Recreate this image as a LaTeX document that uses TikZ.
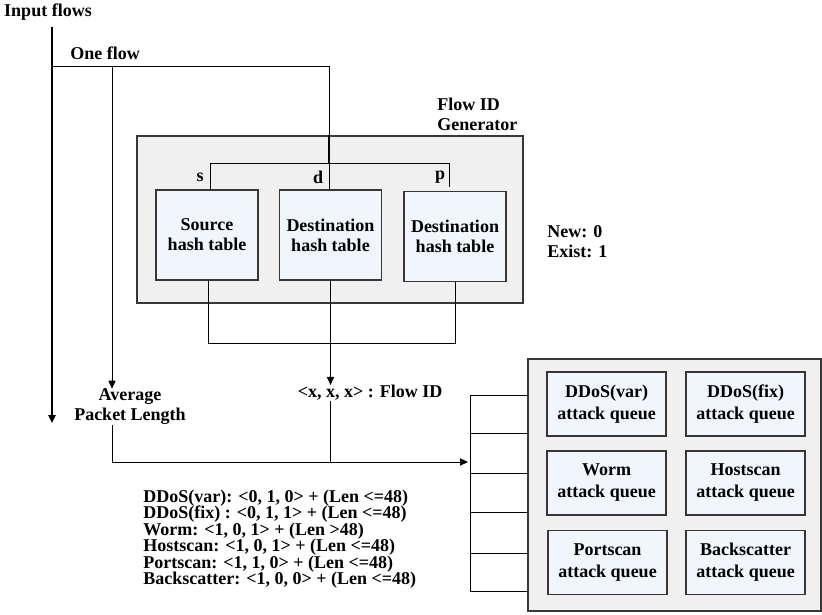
\documentclass[tikz,border=0pt]{standalone}
\usepackage{fontspec}
\setmainfont{Liberation Serif}
\usepackage{tikz}
\usetikzlibrary{arrows.meta, positioning}
\definecolor{panelgray}{RGB}{240,240,240}
\definecolor{boxblue}{RGB}{240,246,252}
\definecolor{edgegray}{RGB}{55,55,55}

\begin{document}
\begin{tikzpicture}[x=0.5pt, y=-0.5pt,
  >={Triangle[length=4pt, width=3.6pt]},
  every node/.style={font=\fontsize{9}{10}\selectfont\bfseries, inner sep=0pt},
  panel/.style={draw=edgegray, fill=panelgray, line width=0.6pt},
  hashbox/.style={draw=edgegray, fill=boxblue, line width=0.6pt, align=center,
                  minimum width=51pt, minimum height=45pt},
  queuebox/.style={draw=edgegray, fill=boxblue, line width=0.6pt, align=center,
                   minimum width=59.5pt, minimum height=32pt,
                   font=\fontsize{9}{11}\selectfont\bfseries},
  ln/.style={line width=0.5pt, black},
  ar/.style={->, line width=0.5pt, black}
]
\useasboundingbox (0,0) rectangle (822,614);

% flow ID generator
\node[panel, minimum width=193pt, minimum height=83.5pt] (gen) at (330,219.5) {};
\node[align=left, anchor=west] (genlbl) at (437,114.5) {Flow ID\\Generator};
\node[hashbox] (src) at (207,235) {Source\\hash table};
\node[hashbox] (dst) at (330.5,235) {Destination\\hash table};
\node[hashbox] (dpt) at (455,236.5) {Destination\\hash table};
\node (ls) at (200,177) {s};
\node (ld) at (318,177) {d};
\node (lp) at (440,177) {p};
\node[align=left, anchor=west] (newex) at (547,241.5) {New: 0\\Exist: 1};

% attack queues
\node[panel, minimum width=146.5pt, minimum height=126pt] (qs) at (674.5,485) {};
\foreach \n/\x/\y/\t in {q1/606.5/404/DDoS(var), q2/745.5/404/DDoS(fix),
                         q3/606.5/483/Worm, q4/745.5/483/Hostscan,
                         q5/607.5/562.5/Portscan, q6/745.5/562.5/Backscatter}
  \node[queuebox] (\n) at (\x,\y) {\t\\attack queue};

% labels
\node (input) at (48,12) {Input flows};
\node (oneflow) at (105,53) {One flow};
\node[align=center] (avg) at (130,407) {Average\\Packet Length};
\node (fid) at (370,393) {<x, x, x> : Flow ID};
\foreach \k/\y/\t in {1/498/{DDoS(var): <0, 1, 0> + (Len <=48)},
                      2/514/{DDoS(fix) : <0, 1, 1> + (Len <=48)},
                      3/531/{Worm: <1, 0, 1> + (Len >48)},
                      4/547/{Hostscan: <1, 0, 1> + (Len <=48)},
                      5/564/{Portscan: <1, 1, 0> + (Len <=48)},
                      6/580/{Backscatter: <1, 0, 0> + (Len <=48)}}
  \node[anchor=west] (rule\k) at (143,\y) {\t};

% input side
\coordinate (inTop) at (52,27);
\coordinate (inEnd) at (52,423);
\coordinate (split) at (52,67);
\coordinate (tapA) at (112,67);
\coordinate (hub) at (329,164);
\coordinate (sTap) at (210,164);
\coordinate (pTap) at (449,164);
\draw[->, line width=1pt] (inTop) -- (inEnd);
\draw[ln] (split) -| (gen.north -| hub);
\draw[line width=1.1pt] (gen.north -| hub) -- (hub);
\draw[ar] (tapA) -- (tapA |- avg.north);
\draw[ln] (sTap |- src.north) -- (sTap) -- (pTap) -- ++(0,23);
\draw[ln] (hub) -- (dst.north -| hub);

% hash outputs
\coordinate (mrg) at (208,343);
\draw[ln] (src.south -| mrg) -- (mrg) -| (dpt.south);
\draw[ar] (dst.south) -- (dst.south |- fid.north);

% to attack queues
\coordinate (join) at (112,462);
\coordinate (bus) at (468,462);
\draw[ln] (dst.south |- fid.south) -- (dst.south |- join);
\draw[ar] (avg.south -| join) -- (join) -- (bus);
\draw[ln] (470,395) -- (470,591);
\foreach \y in {395,433,473,512,553,591}
  \draw[ln] (470,\y) -- (qs.west |- 0,\y);
\end{tikzpicture}
\end{document}
